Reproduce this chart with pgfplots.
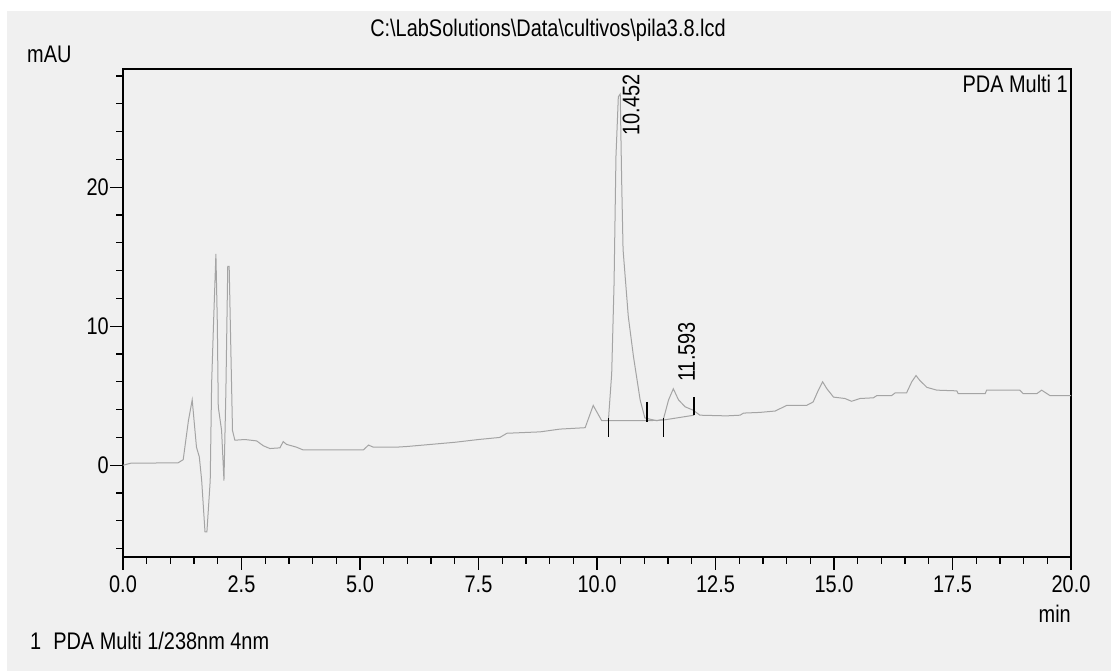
\documentclass[border=0pt]{standalone}
\usepackage{fontspec}
\setmainfont{Liberation Sans}[FakeStretch=0.83]
\usepackage{pgfplots}
\pgfplotsset{compat=1.18}
\definecolor{bg}{HTML}{F0F0F0}
\definecolor{trace}{HTML}{A4A4A4}

\pgfplotstableread{
x y
0.00 0.00
0.17 0.15
1.16 0.17
1.27 0.40
1.38 3.20
1.46 4.70
1.55 1.30
1.61 0.60
1.66 -1.10
1.73 -4.80
1.77 -4.80
1.84 -1.10
1.87 5.90
1.91 10.20
1.96 15.20
1.99 10.20
2.01 4.20
2.08 2.50
2.13 -1.10
2.17 5.20
2.21 14.30
2.24 14.30
2.27 9.20
2.31 2.50
2.36 1.80
2.57 1.85
2.82 1.75
2.96 1.40
3.10 1.20
3.31 1.25
3.38 1.70
3.45 1.50
3.66 1.30
3.80 1.10
5.07 1.10
5.18 1.45
5.28 1.30
5.77 1.30
6.00 1.35
6.50 1.50
7.00 1.65
7.50 1.85
7.95 2.00
8.10 2.30
8.80 2.40
9.22 2.60
9.75 2.70
9.92 4.30
10.10 3.20
10.24 3.20
10.31 6.60
10.36 13.10
10.40 22.20
10.45 26.50
10.49 26.70
10.52 20.50
10.55 15.50
10.66 10.70
10.77 7.80
10.91 4.70
11.01 3.40
11.26 3.20
11.40 3.30
11.51 4.70
11.61 5.50
11.72 4.70
11.86 4.20
12.03 3.96
12.17 3.60
12.73 3.55
13.02 3.60
13.09 3.75
13.44 3.80
13.76 3.90
14.00 4.30
14.42 4.30
14.56 4.55
14.67 5.40
14.76 6.00
14.85 5.50
14.99 4.90
15.23 4.80
15.37 4.60
15.55 4.80
15.83 4.85
15.90 5.00
16.21 5.00
16.29 5.20
16.53 5.20
16.64 6.00
16.73 6.45
16.81 6.10
16.96 5.60
17.17 5.40
17.59 5.35
17.62 5.15
18.19 5.15
18.22 5.40
18.92 5.40
18.99 5.15
19.28 5.15
19.38 5.40
19.56 5.00
20.00 5.00
}\chrom

\begin{document}
\fontsize{24}{28}\selectfont
\begin{tikzpicture}[x=1pt,y=1pt]
\useasboundingbox (0,0) rectangle (1111,671);
\fill[white] (0,0) rectangle (1111,671);
\fill[bg] (7,0) rectangle (1111,660);

\begin{axis}[
    at={(123pt,114pt)}, anchor=south west,
    scale only axis,
    width=948pt, height=488pt,
    xmin=0, xmax=20, ymin=-6.6, ymax=28.5,
    xtick={0,2.5,...,20}, minor x tick num=4,
    ytick={0,10,20}, minor ytick={-6,-4,...,28},
    tick align=outside,
    xtick pos=bottom, ytick pos=left,
    major tick length=13pt, minor tick length=7pt,
    axis line style={black, line width=1.4pt},
    every tick/.style={black, line width=1.3pt},
    xticklabel style={/pgf/number format/fixed, /pgf/number format/fixed zerofill,
        /pgf/number format/precision=1, yshift=-5pt},
    /pgf/number format/assume math mode=true,
    tick label style={font=\fontsize{24}{28}\selectfont, inner sep=1pt},
    clip=false,
]
\addplot[trace, line width=1pt] table {\chrom};
% integration baseline
\addplot[trace, line width=1pt] coordinates {(10.24,3.2) (11.06,3.2) (11.40,3.25) (12.05,3.6)};
% integration marks
\addplot[black, line width=1.6pt] coordinates {(10.24,3.38) (10.24,2.0)};
\addplot[black, line width=1.6pt] coordinates {(11.06,4.55) (11.06,3.1)};
\addplot[black, line width=1.6pt] coordinates {(11.40,3.38) (11.40,2.0)};
\addplot[black, line width=1.6pt] coordinates {(12.05,4.9) (12.05,3.6)};

\node[rotate=90, anchor=west, inner sep=0pt] at (axis cs:10.72,23.7) {10.452};
\node[rotate=90, anchor=west, inner sep=0pt] at (axis cs:11.89,6.0) {11.593};
\end{axis}

\node[anchor=base, inner sep=0pt] at (548,634) {C:\textbackslash LabSolutions\textbackslash Data\textbackslash cultivos\textbackslash pila3.8.lcd};
\node[anchor=base west, inner sep=0pt] at (27,608) {mAU};
\node[anchor=base east, inner sep=0pt] at (1068,578) {PDA Multi 1};
\node[anchor=base east, inner sep=0pt] at (1071,48) {min};
\node[anchor=base west, inner sep=0pt] at (30,21) {1\hspace{12pt}PDA Multi 1/238nm 4nm};
\end{tikzpicture}
\end{document}
